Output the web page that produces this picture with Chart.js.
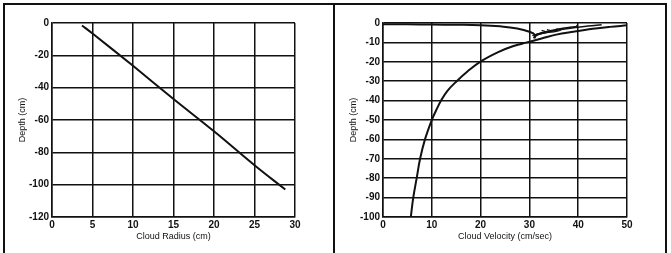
<!DOCTYPE html>
<html>
<head>
<meta charset="utf-8">
<script src="https://cdn.jsdelivr.net/npm/chart.js@4/dist/chart.umd.min.js"></script>
<style>
  body { margin: 0; background: #fff; }
  #wrap { position: relative; width: 671px; height: 253px; overflow: hidden; }
  .ln { position: absolute; background: #111; }
  canvas { position: absolute; }
</style>
</head>
<body>
<div id="wrap">
  <div class="ln" style="left:3px;top:3px;width:664px;height:2px"></div>
  <div class="ln" style="left:3px;top:3px;width:2px;height:250px"></div>
  <div class="ln" style="left:333px;top:3px;width:2px;height:250px"></div>
  <div class="ln" style="left:665px;top:3px;width:2px;height:250px"></div>
  <div style="position:absolute;left:5px;top:5px;width:328px;height:248px"><canvas id="left"></canvas></div>
  <div style="position:absolute;left:336px;top:5px;width:329px;height:248px"><canvas id="right"></canvas></div>
</div>
<script>
// left panel: cloud radius vs depth
var radius = [3.7, 5, 10, 15, 20, 25, 28.8];
var radiusDepth = [-1.5, -6.5, -26.5, -47, -67, -88, -103];

// right panel: cloud velocity vs depth (main curve + early branches)
var velMain = [5.7, 6.2, 6.9, 7.6, 8.6, 10, 10.9, 11.9, 13.2, 15.1, 17.3, 19.9, 23.6, 26.6, 29.5, 32.5, 35.5, 39, 43, 46.5, 50];
var depthMain = [-100, -90, -80, -70, -60, -50, -45, -40, -35, -30, -25, -20, -15, -12, -10, -8, -6, -4.5, -3, -2, -1.2];
var velFromRest = [0, 5, 10, 15, 20, 24, 27.5, 30, 31.2, 31];
var depthFromRest = [-0.6, -0.7, -0.8, -0.9, -1.1, -1.7, -2.8, -4.5, -6.3, -8];
var vel45 = [44.8, 42, 38, 34.5, 32, 30.8];
var depth45 = [-0.9, -1.6, -2.8, -4.2, -5.8, -7.5];
var vel40 = [39.6, 39.8, 38, 35, 32.5, 31];
var depth40 = [-1.2, -1.6, -2.3, -3.6, -5, -6.5];
var velHook1 = [35.5, 36.4, 35.5, 33.5, 31.5];
var depthHook1 = [-3, -3.6, -4.3, -5, -6];
var velHook2 = [33.6, 34.4, 33.7, 32.2, 31];
var depthHook2 = [-3.4, -4, -4.8, -5.4, -6.3];
var velHook3 = [32.5, 33.2, 32.5, 31.4, 30.6];
var depthHook3 = [-3.8, -4.4, -5.2, -5.8, -6.6];

function pts(xs, ys) {
  var out = [];
  for (var i = 0; i < xs.length; i++) out.push({x: xs[i], y: ys[i]});
  return out;
}

function line(xs, ys, w) {
  return {
    data: pts(xs, ys),
    showLine: true,
    borderColor: '#111',
    borderWidth: w || 2,
    pointRadius: 0,
    tension: 0.4,
    fill: false
  };
}

var tickFont = {family: 'Liberation Sans, Arial', size: 10, weight: 'bold'};
var titleFont = {family: 'Liberation Sans, Arial', size: 9};

function makeChart(id, datasets, xMax, xStep, yMin, yStep, xTitle) {
  return new Chart(document.getElementById(id), {
    type: 'scatter',
    data: {datasets: datasets},
    options: {
      responsive: true,
      maintainAspectRatio: false,
      animation: false,
      layout: {padding: {top: 18, right: 38, left: 0, bottom: 11}},
      plugins: {legend: {display: false}, tooltip: {enabled: false}},
      scales: {
        x: {
          type: 'linear', min: 0, max: xMax,
          ticks: {stepSize: xStep, color: '#111', font: tickFont, padding: 2, maxRotation: 0},
          grid: {color: '#111', lineWidth: 1.5, drawTicks: false},
          border: {color: '#111', width: 1.5},
          title: {display: true, text: xTitle, color: '#111', font: titleFont, padding: {top: 0, bottom: 0}},
          afterFit: function(s) { s.height = 25; }
        },
        y: {
          type: 'linear', min: yMin, max: 0,
          ticks: {stepSize: yStep, color: '#111', font: tickFont, padding: 3},
          grid: {color: '#111', lineWidth: 1.5, drawTicks: false},
          border: {color: '#111', width: 1.5},
          title: {display: true, text: 'Depth (cm)', color: '#111', font: titleFont, padding: {top: 12, bottom: 0}},
          afterFit: function(s) { s.width = 47; }
        }
      }
    }
  });
}

makeChart('left', [line(radius, radiusDepth, 2)], 30, 5, -120, 20, 'Cloud Radius (cm)');
makeChart('right', [
  line(velMain, depthMain, 2),
  line(velFromRest, depthFromRest, 2),
  line(vel45, depth45, 1.5),
  line(vel40, depth40, 1.5),
  line(velHook1, depthHook1, 1.2),
  line(velHook2, depthHook2, 1.2),
  line(velHook3, depthHook3, 1.2)
], 50, 10, -100, 10, 'Cloud Velocity (cm/sec)');
</script>
</body>
</html>
